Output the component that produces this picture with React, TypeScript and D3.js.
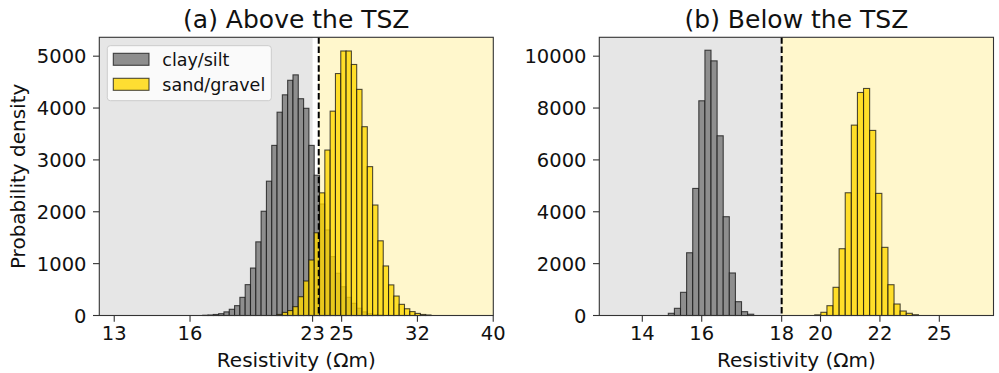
import React from "react";
import * as d3 from "d3";

// ---------- data (x values are log10 of resistivity) ----------
const leftTitle = "(a) Above the TSZ";
const rightTitle = "(b) Below the TSZ";
const xLabel = "Resistivity (Ωm)";
const yLabel = "Probability density";
const seriesNames = ["clay/silt", "sand/gravel"];

const leftXDomain = [1.0803, 1.6001];
const leftYDomain = [0, 5364];
const leftXTicks = [1.1, 1.2, 1.3617, 1.4, 1.5, 1.6];
const leftXTickLabels = ["13", "16", "23", "25", "32", "40"];
const leftYTicks = [0, 1000, 2000, 3000, 4000, 5000];
const leftGreyEnd = 1.3617;
const leftThreshold = 1.3698;
const leftBinStart = 1.23074;
const leftBinWidth = 0.007005;
const leftClayStartBin = -2;
const leftClay = [5, 10, 20, 35, 70, 120, 190, 350, 595, 915, 1420, 2010, 2590, 3280, 3920, 4255, 4535, 4640, 4180, 3995, 3280, 2705, 2150, 1650, 1135, 815, 555, 350, 235, 140, 70, 35, 15, 8];
const leftSandStartBin = 12;
const leftSand = [20, 60, 95, 170, 362, 665, 1070, 1595, 2365, 3190, 3940, 4665, 5100, 5100, 4840, 4360, 3640, 2870, 2130, 1440, 955, 590, 375, 215, 130, 75, 40, 20, 10];

const rightXDomain = [1.1138, 1.4456];
const rightYDomain = [0, 10728];
const rightXTicks = [1.15, 1.2, 1.2673, 1.3, 1.35, 1.4];
const rightXTickLabels = ["14", "16", "18", "20", "22", "25"];
const rightYTicks = [0, 2000, 4000, 6000, 8000, 10000];
const rightGreyEnd = 1.2673;
const rightThreshold = 1.2673;
const rightBinStart = 1.17189;
const rightBinWidth = 0.005135;
const rightClayStartBin = 0;
const rightClay = [85, 277, 894, 2420, 4900, 8280, 10230, 9820, 6930, 3810, 1640, 533, 148, 50];
const rightSandStartBin = 24;
const rightSand = [25, 123, 378, 1087, 2575, 4733, 7341, 8600, 8755, 7137, 4709, 2628, 1187, 443, 173, 85, 30];

// ---------- styles ----------
const FONT = "DejaVu Sans, sans-serif";
const GREY_BG = "#e6e6e6";
const YELLOW_BG = "#fff7cc";
const CLAY_FILL = "#8e8e8e";
const SAND_FILL = "#ffd700";
const TOP = 37.3;
const BOTTOM = 315.5;

type PanelProps = {
  x0: number;
  x1: number;
  xDomain: number[];
  yDomain: number[];
  xTicks: number[];
  xTickLabels: string[];
  yTicks: number[];
  greyEnd: number;
  threshold: number;
  binStart: number;
  binWidth: number;
  clayStart: number;
  clay: number[];
  sandStart: number;
  sand: number[];
  title: string;
  showLegend: boolean;
  showYLabel: boolean;
};

function Panel(p: PanelProps) {
  const x = d3.scaleLinear().domain(p.xDomain).range([p.x0, p.x1]);
  const y = d3.scaleLinear().domain(p.yDomain).range([BOTTOM, TOP]);
  const bars = (vals: number[], start: number, fill: string, op: number, key: string) =>
    vals.map((v, j) => {
      const a = x(p.binStart + (start + j) * p.binWidth);
      const b = x(p.binStart + (start + j + 1) * p.binWidth);
      return (
        <rect
          key={key + j}
          x={a}
          y={y(v)}
          width={b - a}
          height={y(0) - y(v)}
          fill={fill}
          fillOpacity={op}
          stroke="#111"
          strokeOpacity={0.75}
          strokeWidth={1.1}
        />
      );
    });
  const cx = (p.x0 + p.x1) / 2;
  return (
    <g>
      <rect x={p.x0} y={TOP} width={x(p.greyEnd) - p.x0} height={BOTTOM - TOP} fill={GREY_BG} />
      <rect x={x(p.threshold)} y={TOP} width={p.x1 - x(p.threshold)} height={BOTTOM - TOP} fill={YELLOW_BG} />
      {bars(p.clay, p.clayStart, CLAY_FILL, 1, "c")}
      {bars(p.sand, p.sandStart, SAND_FILL, 0.8, "s")}
      <line x1={x(p.threshold)} x2={x(p.threshold)} y1={TOP} y2={BOTTOM} stroke="#000" strokeWidth={2} strokeDasharray="6.5,2.8" />
      <rect x={p.x0} y={TOP} width={p.x1 - p.x0} height={BOTTOM - TOP} fill="none" stroke="#333" strokeWidth={1.1} />
      {p.xTicks.map((t, i) => (
        <g key={"xt" + i}>
          <line x1={x(t)} x2={x(t)} y1={BOTTOM} y2={BOTTOM + 6.3} stroke="#333" strokeWidth={1.1} />
          <text x={x(t)} y={BOTTOM + 24.5} textAnchor="middle" fontSize={19.5} fontFamily={FONT} fill="#111">
            {p.xTickLabels[i]}
          </text>
        </g>
      ))}
      {p.yTicks.map((t, i) => (
        <g key={"yt" + i}>
          <line x1={p.x0 - 6.3} x2={p.x0} y1={y(t)} y2={y(t)} stroke="#333" strokeWidth={1.1} />
          <text x={p.x0 - 12.8} y={y(t)} dy="0.36em" textAnchor="end" fontSize={19.5} fontFamily={FONT} fill="#111">
            {d3.format("d")(t)}
          </text>
        </g>
      ))}
      <text x={cx} y={366.5} textAnchor="middle" fontSize={20} fontFamily={FONT} fill="#111">
        {xLabel}
      </text>
      <text x={cx} y={27.5} textAnchor="middle" fontSize={25} fontFamily={FONT} fill="#111">
        {p.title}
      </text>
      {p.showYLabel && (
        <text
          transform={`translate(25,${(TOP + BOTTOM) / 2}) rotate(-90)`}
          textAnchor="middle"
          fontSize={20}
          fontFamily={FONT}
          fill="#111"
        >
          {yLabel}
        </text>
      )}
      {p.showLegend && (
        <g>
          <rect x={107.3} y={45.7} width={164} height={55} rx={3} fill="#fff" fillOpacity={0.8} stroke="#ccc" strokeWidth={1} />
          {seriesNames.map((n, i) => (
            <g key={n}>
              <rect
                x={113.3}
                y={53.3 + i * 25}
                width={35.7}
                height={12}
                fill={i === 0 ? CLAY_FILL : SAND_FILL}
                fillOpacity={i === 0 ? 1 : 0.8}
                stroke="#111"
                strokeOpacity={0.75}
                strokeWidth={1.1}
              />
              <text x={162.3} y={59.3 + i * 25} dy="0.36em" fontSize={17.5} fontFamily={FONT} fill="#111">
                {n}
              </text>
            </g>
          ))}
        </g>
      )}
    </g>
  );
}

export default function App() {
  return (
    <svg width={999} height={373} style={{ position: "absolute", left: 0, top: 0, background: "#fff" }}>
      <Panel
        x0={99.3}
        x1={493.3}
        xDomain={leftXDomain}
        yDomain={leftYDomain}
        xTicks={leftXTicks}
        xTickLabels={leftXTickLabels}
        yTicks={leftYTicks}
        greyEnd={leftGreyEnd}
        threshold={leftThreshold}
        binStart={leftBinStart}
        binWidth={leftBinWidth}
        clayStart={leftClayStartBin}
        clay={leftClay}
        sandStart={leftSandStartBin}
        sand={leftSand}
        title={leftTitle}
        showLegend={true}
        showYLabel={true}
      />
      <Panel
        x0={599.3}
        x1={993.5}
        xDomain={rightXDomain}
        yDomain={rightYDomain}
        xTicks={rightXTicks}
        xTickLabels={rightXTickLabels}
        yTicks={rightYTicks}
        greyEnd={rightGreyEnd}
        threshold={rightThreshold}
        binStart={rightBinStart}
        binWidth={rightBinWidth}
        clayStart={rightClayStartBin}
        clay={rightClay}
        sandStart={rightSandStartBin}
        sand={rightSand}
        title={rightTitle}
        showLegend={false}
        showYLabel={false}
      />
    </svg>
  );
}
